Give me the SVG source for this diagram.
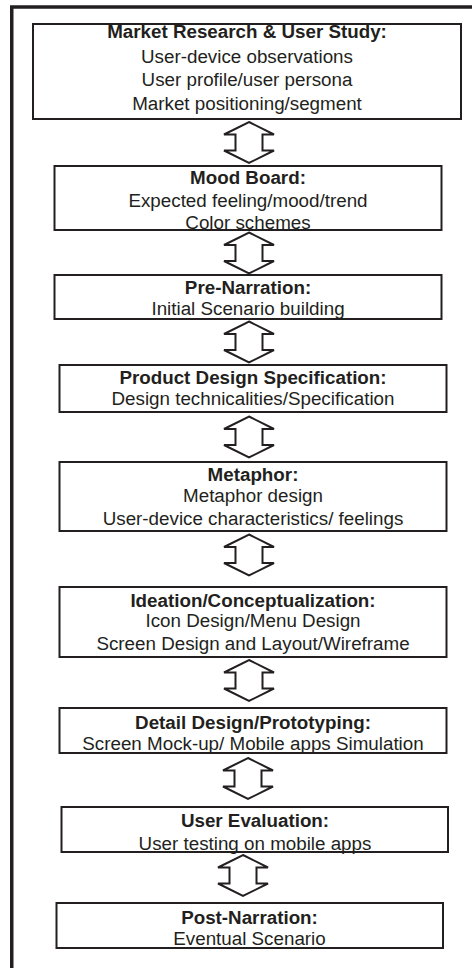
<svg xmlns="http://www.w3.org/2000/svg" width="472" height="968" viewBox="0 0 472 968">
  <style>
    .box { fill: #ffffff; stroke: #231f20; stroke-width: 2; }
    .frame { fill: none; stroke: #231f20; stroke-width: 3.5; }
    .arrow { fill: #ffffff; stroke: #231f20; stroke-width: 2; stroke-linejoin: miter; }
    text { font-family: "Liberation Sans", Arial, sans-serif; font-size: 18.8px; fill: #231f20; text-anchor: middle; }
    .title { font-weight: bold; }
  </style>
  <defs>
    <!-- hollow double-headed block arrow, tip at origin, 41px tall -->
    <path id="dbl" class="arrow" d="M0,0 L25,12.5 L13.5,12.5 L13.5,28.5 L25,28.5 L0,41 L-25,28.5 L-13.5,28.5 L-13.5,12.5 L-25,12.5 Z"/>
  </defs>
  <rect width="472" height="968" fill="#ffffff"/>

  <!-- outer frame: top and left edges -->
  <path class="frame" d="M11.75,968 L11.75,7 L472,7"/>

  <g id="connectors">
    <use href="#dbl" x="249" y="122"/>
    <use href="#dbl" x="249" y="232.5"/>
    <use href="#dbl" x="249" y="321.5"/>
    <use href="#dbl" x="249" y="416.5"/>
    <use href="#dbl" x="249" y="534.5"/>
    <use href="#dbl" x="249" y="660"/>
    <use href="#dbl" x="248" y="758"/>
    <use href="#dbl" x="243" y="855"/>
  </g>

  <g id="market-research">
    <rect class="box" x="33" y="24" width="428" height="95"/>
    <text class="title" x="247" y="38">Market Research &amp; User Study:</text>
    <text x="247" y="62.5">User-device observations</text>
    <text x="247" y="86">User profile/user persona</text>
    <text x="247" y="109.5">Market positioning/segment</text>
  </g>

  <g id="mood-board">
    <rect class="box" x="54.5" y="166" width="387" height="64"/>
    <text class="title" x="248" y="184">Mood Board:</text>
    <text x="248" y="206.5">Expected feeling/mood/trend</text>
    <text x="248" y="228.5">Color schemes</text>
  </g>

  <g id="pre-narration">
    <rect class="box" x="54.5" y="275" width="387" height="44"/>
    <text class="title" x="248" y="293.5">Pre-Narration:</text>
    <text x="248" y="315">Initial Scenario building</text>
  </g>

  <g id="product-design-spec">
    <rect class="box" x="59.5" y="365" width="387" height="47"/>
    <text class="title" x="253" y="383.5">Product Design Specification:</text>
    <text x="253" y="405">Design technicalities/Specification</text>
  </g>

  <g id="metaphor">
    <rect class="box" x="59.5" y="462" width="387" height="69"/>
    <text class="title" x="253" y="480.5">Metaphor:</text>
    <text x="253" y="502">Metaphor design</text>
    <text x="253" y="525">User-device characteristics/ feelings</text>
  </g>

  <g id="ideation">
    <rect class="box" x="59.5" y="587" width="387" height="70"/>
    <text class="title" x="253" y="606.5">Ideation/Conceptualization:</text>
    <text x="253" y="626.5">Icon Design/Menu Design</text>
    <text x="253" y="649.5">Screen Design and Layout/Wireframe</text>
  </g>

  <g id="detail-design">
    <rect class="box" x="59.5" y="708" width="387" height="45"/>
    <text class="title" x="253" y="728.5">Detail Design/Prototyping:</text>
    <text x="253" y="750">Screen Mock-up/ Mobile apps Simulation</text>
  </g>

  <g id="user-evaluation">
    <rect class="box" x="61.5" y="807" width="386.5" height="45"/>
    <text class="title" x="255" y="826.5">User Evaluation:</text>
    <text x="255" y="850">User testing on mobile apps</text>
  </g>

  <g id="post-narration">
    <rect class="box" x="56.5" y="903" width="386.5" height="45"/>
    <text class="title" x="249.5" y="923.5">Post-Narration:</text>
    <text x="249.5" y="945">Eventual Scenario</text>
  </g>
</svg>
